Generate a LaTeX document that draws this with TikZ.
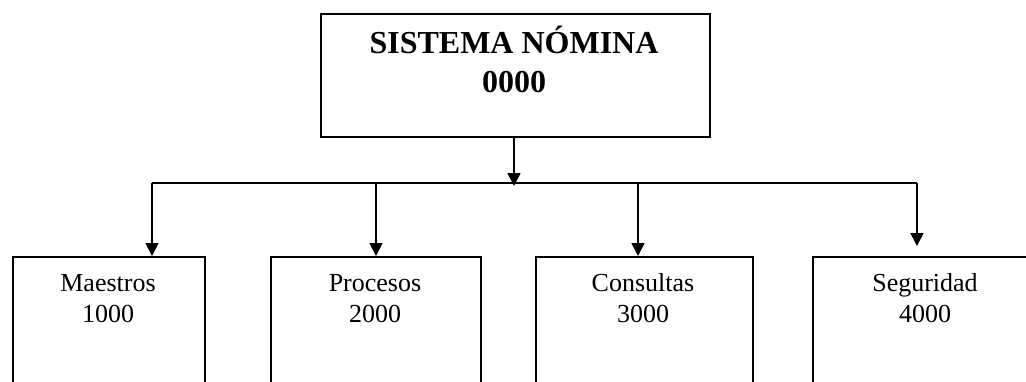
\documentclass[tikz,border=0pt]{standalone}
\usepackage{fontspec}
\setmainfont{Liberation Serif}
\usetikzlibrary{arrows.meta}
\tikzset{
  box/.style={draw, line width=1.6pt, inner sep=0pt, anchor=north west},
  conn/.style={line width=1.6pt},
  arr/.style={conn, -{Triangle[width=13pt,length=13pt]}},
  ttl/.style={font=\bfseries\fontsize{32}{39}\selectfont, align=center, anchor=base, inner sep=0pt},
  lbl/.style={font=\fontsize{26}{31}\selectfont, align=center, anchor=base, inner sep=0pt}
}
\begin{document}
\begin{tikzpicture}[x=1pt,y=-1pt]
\clip (0,0) rectangle (1026,381);
\fill[white] (0,0) rectangle (1026,381);
% top box
\node[box, minimum width=389pt, minimum height=123pt] (top) at (320,13) {};
\node[ttl] (toptxt) at (514,92) {SISTEMA NÓMINA\\0000};
% bus
\coordinate (bj) at (514,186);
\coordinate (bl) at (152,183);
\coordinate (br) at (917,183);
\coordinate (d1) at (152,183);
\coordinate (d2) at (376,183);
\coordinate (d3) at (638,183);
\coordinate (d4) at (917,183);
% child boxes
\node[box, minimum width=192pt, minimum height=160pt] (m) at (12,256) {};
\node[box, minimum width=210pt, minimum height=160pt] (p) at (270,256) {};
\node[box, minimum width=217pt, minimum height=160pt] (c) at (535,256) {};
\node[box, minimum width=228pt, minimum height=160pt] (s) at (812,256) {};
\node[lbl] (mt) at (108,322) {Maestros\\1000};
\node[lbl] (pt) at (375,322) {Procesos\\2000};
\node[lbl] (ct) at (643,322) {Consultas\\3000};
\node[lbl] (st) at (925,322) {Seguridad\\4000};
\coordinate (sa) at (917,246);
% connectors
\draw[arr] (top.south -| bj) -- (bj);
\draw[conn] (bl) -- (br);
\draw[arr] (d1) -- (d1 |- m.north);
\draw[arr] (d2) -- (d2 |- p.north);
\draw[arr] (d3) -- (d3 |- c.north);
\draw[arr] (d4) -- (sa);
\end{tikzpicture}
\end{document}
